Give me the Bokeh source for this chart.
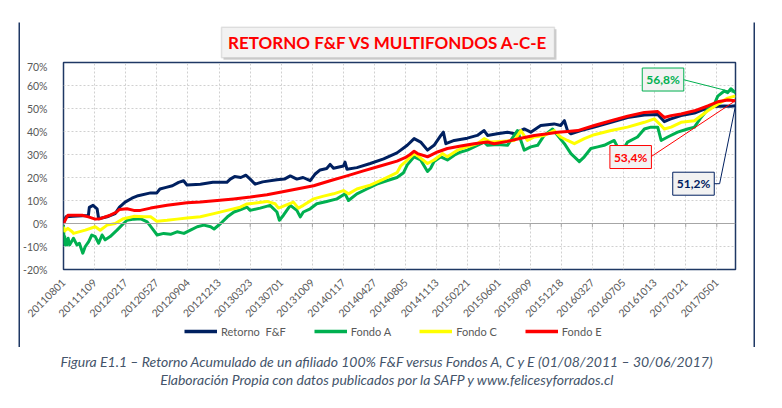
import math
from bokeh.plotting import figure
from bokeh.layouts import column, row
from bokeh.models import (Range1d, FixedTicker, Span, Label, Legend, LegendItem,
                          BoxAnnotation, Spacer)
from bokeh.embed import file_html
from bokeh.resources import INLINE

# ---------------- data (days since 2011-08-01, cumulative return %) ----------------
x_ticks = [0, 100, 200, 300, 400, 500, 600, 700, 800, 900, 1000, 1100, 1200, 1300,
           1400, 1500, 1600, 1700, 1800, 1900, 2000, 2100]
x_tick_labels = ["20110801", "20111109", "20120217", "20120527", "20120904", "20121213",
                 "20130323", "20130701", "20131009", "20140117", "20140427", "20140805",
                 "20141113", "20150221", "20150601", "20150909", "20151218", "20160327",
                 "20160705", "20161013", "20170121", "20170501"]
y_ticks = [-20, -10, 0, 10, 20, 30, 40, 50, 60, 70]
y_tick_labels = ["-20%", "-10%", "0%", "10%", "20%", "30%", "40%", "50%", "60%", "70%"]
x_end = 2160

ff_days = [0, 8, 30, 60, 80, 83, 95, 108, 113, 140, 166, 180, 198, 220, 240, 280, 300,
           310, 330, 350, 370, 386, 397, 440, 480, 525, 536, 550, 570, 586, 600, 616,
           640, 686, 710, 729, 750, 770, 793, 808, 825, 846, 857, 868, 900, 905, 911,
           943, 986, 1029, 1072, 1105, 1127, 1148, 1170, 1191, 1213, 1221, 1229, 1256,
           1298, 1330, 1352, 1363, 1394, 1427, 1449, 1481, 1502, 1534, 1577, 1598, 1610,
           1620, 1631, 1663, 1706, 1760, 1813, 1867, 1910, 1931, 1950, 1985, 2028, 2060,
           2092, 2124, 2145, 2160]
ff_vals = [0.0, 2.9, 3.2, 3.4, 3.5, 7.0, 7.9, 6.4, 2.1, 2.9, 4.3, 7.1, 9.3, 11.0, 12.1,
           13.3, 13.3, 15.0, 15.7, 16.4, 17.9, 18.6, 16.7, 17.1, 17.9, 17.9, 19.3, 20.4,
           20.0, 21.0, 19.3, 17.1, 18.1, 19.0, 19.3, 20.7, 19.3, 20.0, 18.6, 21.4, 23.3,
           23.9, 25.7, 24.0, 25.0, 26.7, 23.6, 24.3, 26.1, 28.1, 30.7, 34.0, 36.9, 35.4,
           31.9, 34.0, 38.3, 39.7, 34.7, 36.1, 37.1, 38.3, 40.4, 38.3, 39.0, 39.7, 39.0,
           41.1, 39.7, 42.6, 43.3, 42.6, 44.7, 40.4, 39.0, 40.4, 41.9, 44.0, 46.1, 47.2,
           47.4, 44.3, 45.4, 46.9, 48.0, 49.7, 50.9, 51.1, 51.0, 51.2]

a_days = [0, 2, 4, 6, 9, 11, 15, 20, 32, 43, 51, 62, 70, 81, 91, 102, 113, 124, 134,
          150, 172, 193, 204, 226, 247, 269, 285, 301, 322, 344, 365, 387, 408, 430,
          451, 473, 484, 505, 527, 548, 570, 590, 600, 632, 664, 686, 694, 707, 729,
          750, 761, 771, 793, 814, 846, 879, 905, 916, 943, 975, 1007, 1039, 1072, 1093,
          1105, 1127, 1148, 1170, 1180, 1191, 1213, 1234, 1256, 1277, 1298, 1330, 1352,
          1363, 1395, 1427, 1459, 1481, 1502, 1524, 1545, 1572, 1588, 1610, 1631, 1658,
          1674, 1695, 1717, 1738, 1770, 1792, 1813, 1845, 1867, 1888, 1910, 1921, 1942,
          1974, 2006, 2028, 2049, 2071, 2092, 2103, 2124, 2135, 2145, 2160]
a_vals = [-0.7, -8.6, -5.7, -9.3, -7.1, -9.3, -6.4, -9.3, -6.4, -9.3, -8.6, -12.9, -10.0,
          -7.9, -5.0, -5.7, -8.6, -5.0, -7.1, -5.7, -2.9, 0.0, 1.4, 1.9, 2.1, 0.7, -2.1,
          -5.0, -4.3, -4.7, -3.6, -4.3, -2.9, -1.4, -0.7, -1.4, -2.4, 0.0, 2.9, 5.0, 6.1,
          7.1, 5.7, 6.7, 7.9, 5.0, 1.4, 3.6, 7.9, 5.7, 2.9, 5.0, 6.4, 8.6, 9.6, 10.7,
          12.9, 10.0, 12.9, 15.0, 17.1, 18.6, 20.0, 22.1, 25.5, 29.0, 27.6, 22.6, 24.0,
          26.9, 29.0, 27.6, 29.7, 31.1, 31.9, 34.0, 35.4, 34.0, 34.3, 34.0, 40.4, 31.9,
          33.3, 34.0, 38.3, 41.1, 38.3, 34.7, 30.4, 26.9, 29.0, 32.6, 33.3, 34.0, 36.1,
          30.4, 35.4, 37.6, 41.1, 41.9, 41.9, 36.1, 37.6, 39.7, 41.1, 41.9, 46.1, 49.7,
          51.9, 55.4, 57.6, 56.9, 58.6, 56.8]

c_days = [0, 3, 14, 28, 32, 70, 102, 118, 140, 166, 193, 226, 258, 280, 300, 333, 365,
          397, 440, 483, 526, 568, 590, 611, 654, 680, 691, 707, 739, 755, 771, 804, 836,
          868, 900, 916, 943, 986, 1029, 1072, 1084, 1105, 1127, 1143, 1170, 1191, 1218,
          1234, 1266, 1298, 1330, 1352, 1373, 1406, 1449, 1470, 1491, 1513, 1545, 1577,
          1598, 1620, 1642, 1674, 1706, 1760, 1813, 1867, 1899, 1921, 1931, 1953, 1985,
          2028, 2071, 2103, 2135, 2160]
c_vals = [-1.4, -3.3, -2.1, -3.6, -4.3, -2.9, -1.4, -2.9, -0.7, 0.0, 2.1, 3.1, 2.9, 2.9,
          1.0, 1.4, 1.9, 2.4, 2.9, 4.3, 5.7, 7.1, 8.5, 8.8, 9.6, 8.6, 6.7, 7.6, 9.3, 6.7,
          7.9, 10.7, 11.9, 12.9, 14.3, 12.9, 15.0, 16.7, 19.3, 22.1, 25.1, 27.6, 30.4,
          29.0, 26.1, 27.6, 30.4, 29.0, 31.9, 33.3, 34.7, 36.9, 35.4, 35.7, 36.1, 40.4,
          36.1, 37.6, 38.3, 40.4, 37.6, 36.1, 34.7, 36.9, 38.6, 40.4, 41.9, 44.0, 45.5,
          42.6, 41.1, 41.9, 44.0, 44.7, 49.0, 51.9, 54.5, 55.5]

e_days = [0, 8, 14, 60, 80, 102, 118, 150, 171, 180, 204, 226, 247, 280, 333, 397, 440,
          494, 547, 601, 654, 696, 750, 804, 857, 911, 964, 1018, 1072, 1098, 1114, 1127,
          1138, 1170, 1202, 1234, 1277, 1320, 1363, 1384, 1427, 1470, 1513, 1556, 1588,
          1620, 1653, 1706, 1760, 1813, 1867, 1910, 1931, 1953, 1985, 2028, 2071, 2103,
          2135, 2160]
e_vals = [0.0, 2.1, 3.6, 3.6, 2.9, 1.9, 2.1, 3.6, 5.0, 6.1, 6.4, 5.7, 5.7, 6.7, 7.9, 9.0,
          9.3, 10.0, 10.7, 11.5, 12.5, 13.6, 15.0, 16.4, 18.6, 20.7, 22.9, 25.0, 27.1,
          28.6, 30.0, 31.4, 30.4, 29.0, 31.1, 32.6, 33.7, 34.7, 35.4, 34.7, 35.7, 37.1,
          38.3, 39.0, 39.7, 40.0, 40.4, 42.6, 44.7, 46.6, 48.3, 48.7, 46.1, 46.9, 47.6,
          49.0, 51.1, 52.9, 53.7, 53.4]

series_names = ["Retorno  F&F", "Fondo A", "Fondo C", "Fondo E"]
series_colors = ["#002060", "#00b050", "#ffff00", "#ff0000"]

title_text = "RETORNO F&F VS MULTIFONDOS A-C-E"
caption_1 = ("Figura E1.1 \u2013 Retorno Acumulado de un afiliado 100% F&F versus "
             "Fondos A, C y E (01/08/2011 \u2013 30/06/2017)")
caption_2 = "Elaboraci\u00f3n Propia con datos publicados por la SAFP y www.felicesyforrados.cl"

font = "Lato"
gray_txt = "#595959"
navy_border = "#1f3864"

# ---------------- helpers ----------------
def blank(w, h, fill="white", xr=(0, 1)):
    f = figure(width=w, height=h, output_backend="svg", toolbar_location=None,
               x_range=Range1d(*xr), y_range=Range1d(0, 1), x_axis_type=None,
               y_axis_type=None, min_border=0, outline_line_color=None,
               background_fill_color=fill, border_fill_color=fill,
               title_location=None)
    return f

IW = 733          # inner width of the bordered chart area
BW = 2            # border thickness
# strips stacked with the chart get their frame aligned with the chart frame,
# so their screen x is measured from the chart frame's left edge.

# ---------------- title strip ----------------
p_title = blank(IW, 38)
p_title.add_layout(BoxAnnotation(left=160, right=493, top=31.3, bottom=0.7,
                                 left_units="screen", right_units="screen",
                                 top_units="screen", bottom_units="screen",
                                 fill_color="#cfcfcf", fill_alpha=1, line_color=None))
p_title.add_layout(BoxAnnotation(left=158, right=491, top=33.3, bottom=2.7,
                                 left_units="screen", right_units="screen",
                                 top_units="screen", bottom_units="screen",
                                 fill_color="#f2f2f2", fill_alpha=1, line_color="#a6a6a6",
                                 line_width=1.5))
p_title.add_layout(Label(x=324.5, y=18, x_units="screen", y_units="screen",
                         text=title_text, text_align="center", text_baseline="middle",
                         text_font=font, text_font_style="bold", text_font_size="17px",
                         text_color="#ff0000"))

# ---------------- main chart ----------------
p = figure(width=IW, height=263, output_backend="svg", toolbar_location=None,
           x_range=Range1d(0, x_end), y_range=Range1d(-20, 70),
           min_border_left=43, min_border_right=18, min_border_top=2,
           min_border_bottom=50, background_fill_color="white",
           border_fill_color="white", title_location=None)
p.outline_line_color = navy_border
p.outline_line_width = 1.5

p.xaxis.ticker = FixedTicker(ticks=x_ticks)
p.xaxis.major_label_overrides = dict(zip(x_ticks, x_tick_labels))
p.xaxis.major_label_orientation = math.pi / 4
p.yaxis.ticker = FixedTicker(ticks=y_ticks)
p.yaxis.major_label_overrides = dict(zip(y_ticks, y_tick_labels))
for ax in (p.xaxis, p.yaxis):
    ax.axis_line_color = None
    ax.major_tick_line_color = None
    ax.minor_tick_line_color = None
    ax.major_label_text_font = font
    ax.major_label_text_font_size = "10.5px"
    ax.major_label_text_color = gray_txt
p.yaxis.major_label_standoff = 10
p.xaxis.major_label_standoff = 5

p.xgrid.ticker = FixedTicker(ticks=x_ticks)
p.ygrid.ticker = FixedTicker(ticks=y_ticks)
for g in (p.xgrid, p.ygrid):
    g.grid_line_color = "#d0d0d0"
    g.grid_line_dash = "2 2"
    g.grid_line_width = 1

# zero line with category tick marks
p.add_layout(Span(location=0, dimension="width", line_color="#a6a6a6", line_width=1.2))
p.segment(x0=x_ticks, y0=[0] * len(x_ticks), x1=x_ticks, y1=[-1.6] * len(x_ticks),
          line_color="#a6a6a6", line_width=1)

series = [(ff_days, ff_vals), (a_days, a_vals), (c_days, c_vals), (e_days, e_vals)]
for (days, vals), col in zip(series, series_colors):
    p.line(days, vals, line_color=col, line_width=3, line_join="round")

# ---------------- end-value call-outs ----------------
def fmt(v):
    return ("%.1f%%" % v).replace(".", ",")

callouts = [
    # (series values, days, colour, label centre (d, v), leader path start points)
    (a_vals, a_days, series_colors[1], (1927, 62.6), [(1991, 62.6)]),
    (e_vals, e_days, series_colors[3], (1823, 28.9), [(1887, 28.9)]),
    (ff_vals, ff_days, series_colors[0], (2025, 17.3), [(2088, 17.3), (2109, 17.3)]),
]
for vals, days, col, (lx, ly), path in callouts:
    xs = [pt[0] for pt in path] + [days[-1]]
    ys = [pt[1] for pt in path] + [vals[-1]]
    p.line(xs, ys, line_color=col, line_width=1)
    p.add_layout(Label(x=lx, y=ly, text=fmt(vals[-1]), text_align="center",
                       text_baseline="middle", text_font=font, text_font_style="bold",
                       text_font_size="12px", text_color=col,
                       background_fill_color="#f2f2f2", border_line_color=col,
                       border_line_width=1, padding=4))

# ---------------- legend strip ----------------
# the series are re-drawn here outside the visible x range, only to feed the legend
p_leg = blank(IW, 24, xr=(x_end + 1000, x_end + 1001))
leg_renderers = [p_leg.line(days, vals, line_color=col, line_width=3.5)
                 for (days, vals), col in zip(series, series_colors)]
legend = Legend(items=[LegendItem(label=n, renderers=[r])
                       for n, r in zip(series_names, leg_renderers)],
                orientation="horizontal", location=(121, 9), padding=0, margin=0,
                spacing=28, glyph_width=33, glyph_height=14, label_height=14,
                label_standoff=4, label_text_font=font, label_text_font_size="11px",
                label_text_color=gray_txt, border_line_color=None,
                background_fill_alpha=0)
p_leg.add_layout(legend, "center")

# ---------------- border built from thin navy strips ----------------
inner = column(p_title, p, p_leg, spacing=0)
bordered = column(blank(IW + 2 * BW, BW, navy_border),
                  row(blank(BW, 325, navy_border), inner, blank(BW, 325, navy_border),
                      spacing=0),
                  blank(IW + 2 * BW, BW, navy_border), spacing=0)

# ---------------- caption under the chart ----------------
p_cap = blank(782, 59)
cap_color = "#44546a"
for txt, yy in [(caption_1, 47), (caption_2, 29)]:
    p_cap.add_layout(Label(x=387, y=yy, x_units="screen", y_units="screen", text=txt,
                           text_align="center", text_baseline="middle", text_font=font,
                           text_font_style="italic", text_font_size="14px",
                           text_color=cap_color))

layout = column(Spacer(width=782, height=20),
                row(Spacer(width=18, height=329), bordered, spacing=0),
                p_cap, spacing=0)
open("out.html", "w").write(file_html(layout, INLINE))
